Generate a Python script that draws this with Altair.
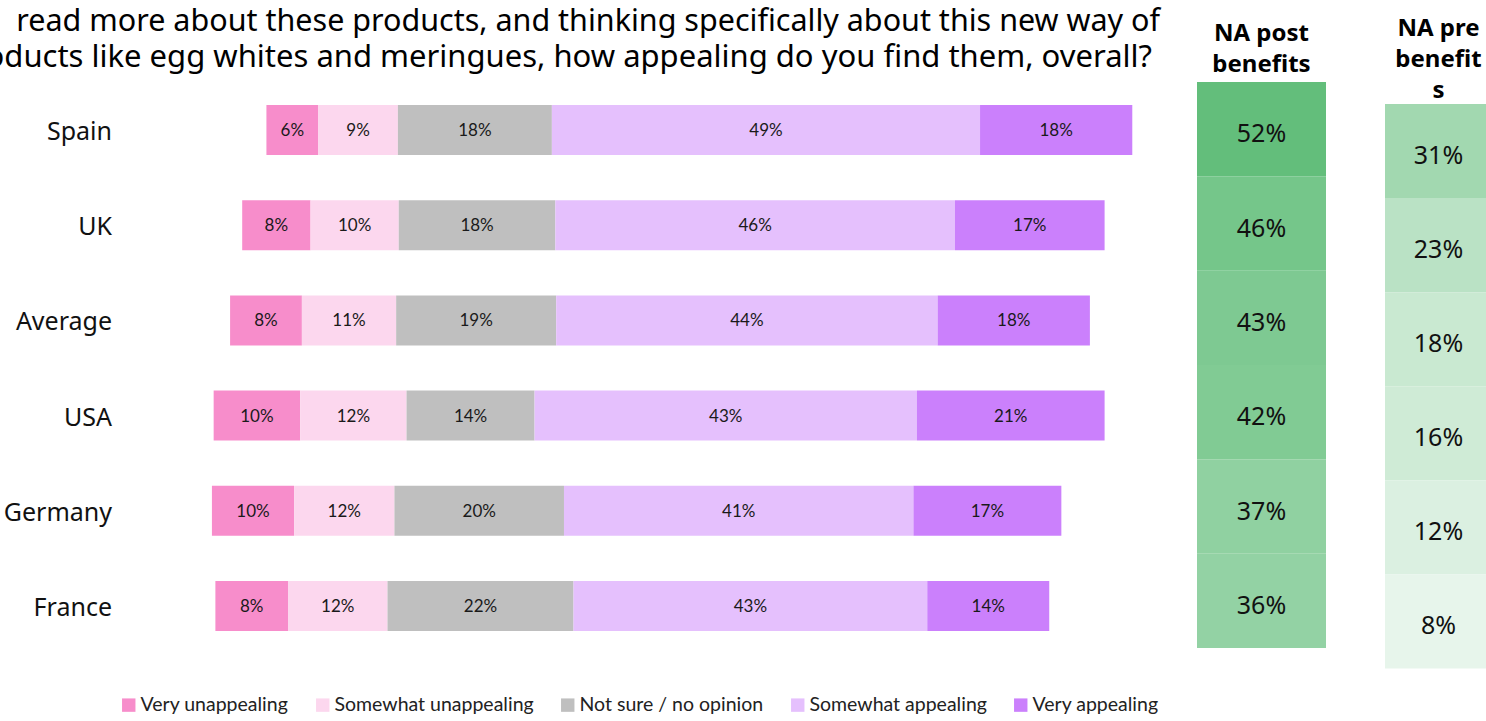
import altair as alt
import pandas as pd

countries = ["Spain", "UK", "Average", "USA", "Germany", "France"]
categories = ["Very unappealing", "Somewhat unappealing", "Not sure / no opinion",
              "Somewhat appealing", "Very appealing"]
cat_colors = ["#F78DCB", "#FCD7EE", "#BFBFBF", "#E5C0FD", "#CB80FC"]

# hidden spacer series in front of each bar (in % units)
lead = [30.8, 28.0, 26.6, 24.7, 24.5, 24.9]
# segment lengths (in % units) as drawn
very_unappealing = [6.0, 7.9, 8.3, 10.0, 9.5, 8.4]
somewhat_unappealing = [9.2, 10.2, 10.9, 12.3, 11.6, 11.5]
not_sure = [17.8, 18.1, 18.5, 14.8, 19.6, 21.5]
somewhat_appealing = [49.5, 46.2, 44.1, 44.2, 40.4, 40.9]
very_appealing = [17.6, 17.3, 17.6, 21.7, 17.1, 14.1]
# data labels as printed
vu_lbl = [6, 8, 8, 10, 10, 8]
su_lbl = [9, 10, 11, 12, 12, 12]
ns_lbl = [18, 18, 19, 14, 20, 22]
sa_lbl = [49, 46, 44, 43, 41, 43]
va_lbl = [18, 17, 18, 21, 17, 14]

na_post = [52, 46, 43, 42, 37, 36]
na_pre = [31, 23, 18, 16, 12, 8]

title_line1 = "read more about these products, and thinking specifically about this new way of"
title_line2 = "products like egg whites and meringues, how appealing do you find them, overall?"

segs = [very_unappealing, somewhat_unappealing, not_sure, somewhat_appealing, very_appealing]
lbls = [vu_lbl, su_lbl, ns_lbl, sa_lbl, va_lbl]
rows = []
for i, c in enumerate(countries):
    cum = lead[i]
    for k, cat in enumerate(categories):
        v = segs[k][i]
        rows.append({"country": c, "cat": cat, "order": k, "x0": cum, "x1": cum + v,
                     "xm": cum + v / 2, "lbl": f"{lbls[k][i]}%"})
        cum += v
bars_df = pd.DataFrame(rows)
names_df = pd.DataFrame({"country": countries})

W, H = 1486, 721
PX_PER_PCT = 8.65
xs = alt.Scale(domain=[0, W / PX_PER_PCT], range=[0, W])
ys = alt.Scale(domain=countries, range=[105, 631], paddingInner=0.475, paddingOuter=0)

bar_base = alt.Chart(bars_df)
bars = bar_base.mark_bar().encode(
    x=alt.X("x0:Q", scale=xs, axis=None),
    x2="x1:Q",
    y=alt.Y("country:N", scale=ys, axis=None),
    color=alt.Color("cat:N", scale=alt.Scale(domain=categories, range=cat_colors),
                    sort=categories,
                    legend=alt.Legend(orient="none", legendX=119, legendY=695,
                                      direction="horizontal", columns=5, title=None,
                                      symbolType="square", symbolSize=180,
                                      symbolStrokeWidth=0, labelFont="Lato",
                                      labelFontSize=19.5, labelColor="#222222",
                                      columnPadding=24, labelOffset=2, labelLimit=400)),
    order="order:Q",
)
bar_text = bar_base.mark_text(font="Lato", fontSize=17, color="#1a1a1a", baseline="middle", dy=1).encode(
    x=alt.X("xm:Q", scale=xs, axis=None),
    y=alt.Y("country:N", scale=ys, axis=None),
    text="lbl:N",
)
row_names = alt.Chart(names_df).mark_text(font="Noto Sans", fontSize=25, align="right",
                                          baseline="middle", color="#111111", dy=2).encode(
    x=alt.value(112),
    y=alt.Y("country:N", scale=ys, axis=None),
    text="country:N",
)
bar_group = alt.layer(bars, bar_text, row_names)

greens = alt.Scale(domain=[0, 52], range=["#FFFFFF", "#63BE7B"], interpolate="rgb")


def column(values, name, header, xrange, yrange, header_y):
    df = pd.DataFrame({"country": countries, "v": values,
                       "lbl": [f"{v}%" for v in values], "col": name})
    hdf = pd.DataFrame({"col": [name], "hdr": [header]})
    cx = alt.Scale(domain=[name], range=xrange, paddingInner=0, paddingOuter=0)
    cy = alt.Scale(domain=countries, range=yrange, paddingInner=0, paddingOuter=0)
    cells = alt.Chart(df).mark_rect(strokeWidth=0).encode(
        x=alt.X("col:N", scale=cx, axis=None),
        y=alt.Y("country:N", scale=cy, axis=None),
        color=alt.Color("v:Q", scale=greens, legend=None),
    )
    txt = alt.Chart(df).mark_text(font="Noto Sans", fontSize=25, color="#111111",
                                  baseline="middle", dy=5).encode(
        x=alt.X("col:N", scale=cx, axis=None),
        y=alt.Y("country:N", scale=cy, axis=None),
        text="lbl:N",
    )
    hdr = alt.Chart(hdf).mark_text(font="Noto Sans", fontSize=24, fontWeight="bold",
                                   color="#000000", baseline="alphabetic",
                                   lineBreak="\n", lineHeight=31).encode(
        x=alt.X("col:N", scale=cx, axis=None),
        y=alt.value(header_y),
        text="hdr:N",
    )
    return alt.layer(cells, txt, hdr)


col1 = column(na_post, "NA post benefits", "NA post\nbenefits", [1197, 1326], [82, 648], 41)
col2 = column(na_pre, "NA pre benefits", "NA pre\nbenefit\ns", [1385, 1492], [104, 668.5], 36)

title_df = pd.DataFrame({"t1": [title_line1], "t2": [title_line2]})
title1 = alt.Chart(title_df).mark_text(
    font="Noto Sans", fontSize=30.5, align="right", baseline="alphabetic",
    color="#000000").encode(x=alt.value(1160), y=alt.value(31), text="t1:N")
title2 = alt.Chart(title_df).mark_text(
    font="Noto Sans", fontSize=31, align="right", baseline="alphabetic",
    color="#000000").encode(x=alt.value(1152), y=alt.value(67), text="t2:N")

chart = alt.layer(bar_group, col1, col2, title1, title2).resolve_scale(
    x="independent", y="independent", color="independent"
).properties(
    width=W, height=H, padding=0, autosize=alt.AutoSizeParams(type="none")
).configure_view(stroke=None)

chart.save("out.html", embed_options={"renderer": "svg", "actions": False})
